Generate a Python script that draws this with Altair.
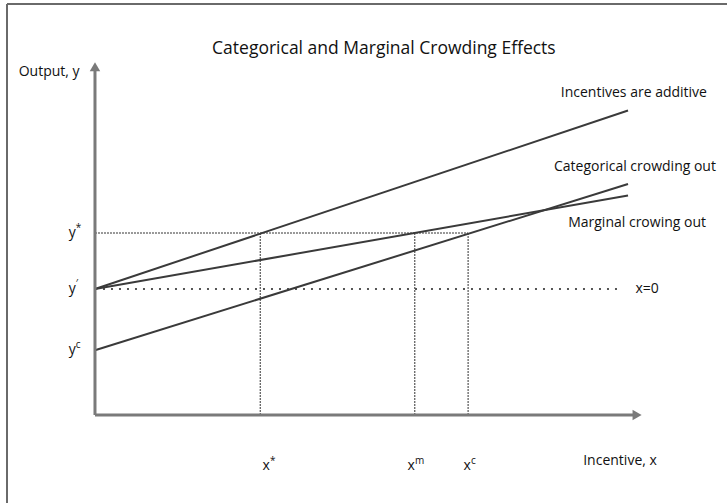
import altair as alt
import pandas as pd

# ---- data (conceptual units) ----
x_star, x_m, x_c = 3.1, 6.0, 7.0
y_star, y_prime, y_c = 5.2, 3.6, 1.85
x_end = 10.0

line_names = ["Incentives are additive", "Marginal crowing out", "Categorical crowding out"]
line_y0 = [3.6, 3.6, 1.85]
line_y1 = [8.7, 6.27, 6.6]

label_x = [10.11, 10.17, 10.13]
label_y = [9.2, 5.5, 7.09]
label_text = ["Incentives are additive", "Marginal crowing out", "Categorical crowding out"]

xtick_vals = [x_star, x_m, x_c]
xtick_pos = [3.21, 5.93, 6.98]
xtick_base = ["x", "x", "x"]
xtick_sup = ["*", "m", "c"]
ytick_vals = [y_star, y_prime, y_c]
ytick_base = ["y", "y", "y"]
ytick_sup = ["*", "′", "c"]

W, H = 727, 503
xs = alt.Scale(domain=[-1.782, 11.857], nice=False, zero=False)
ys = alt.Scale(domain=[-2.514, 11.857], nice=False, zero=False)
FONT = "Open Sans"
INK = "#3a3a3a"
TXT = "#111111"
FS = 14

def X(f="x"):
    return alt.X(f, type="quantitative", scale=xs, axis=None)

def Y(f="y"):
    return alt.Y(f, type="quantitative", scale=ys, axis=None)

# frame (left and top borders of the figure)
frame = pd.DataFrame({"a": [0]})
frame_left = alt.Chart(frame).mark_rule(color="#6a6a6a", strokeWidth=2).encode(
    x=alt.value(7), y=alt.value(4), y2=alt.value(H))
frame_top = alt.Chart(frame).mark_rule(color="#6a6a6a", strokeWidth=2).encode(
    x=alt.value(7), x2=alt.value(W), y=alt.value(4))

# axes
axes_df = pd.DataFrame({"x": [0, 0], "y": [0, 0], "x2": [10.12, 0], "y2": [0, 9.9]})
axes = alt.Chart(axes_df).mark_rule(color="#7a7a7a", strokeWidth=3).encode(
    x=X(), y=Y(), x2="x2", y2="y2")
arrow_x = alt.Chart(pd.DataFrame({"x": [10.17], "y": [0]})).mark_point(
    shape="triangle-right", filled=True, color="#7a7a7a", size=110, opacity=1).encode(x=X(), y=Y())
arrow_y = alt.Chart(pd.DataFrame({"x": [0], "y": [9.95]})).mark_point(
    shape="triangle-up", filled=True, color="#7a7a7a", size=110, opacity=1).encode(x=X(), y=Y())

# dotted x=0 line
dot_df = pd.DataFrame({"x": [0], "y": [y_prime], "x2": [9.85]})
dotted = alt.Chart(dot_df).mark_rule(color="#555555", strokeWidth=2, strokeDash=[2, 6]).encode(
    x=X(), y=Y(), x2="x2")

# dashed guides
guide_df = pd.DataFrame({
    "x": [0, x_star, x_m, x_c],
    "x2": [x_c, x_star, x_m, x_c],
    "y": [y_star, 0, 0, 0],
    "y2": [y_star, y_star, y_star, y_star],
})
guides = alt.Chart(guide_df).mark_rule(color="#333333", strokeWidth=1, strokeDash=[2, 1]).encode(
    x=X(), y=Y(), x2="x2", y2="y2")

# main lines
lines_df = pd.DataFrame({"name": line_names, "x": [0] * 3, "x2": [x_end] * 3,
                         "y": line_y0, "y2": line_y1})
lines = alt.Chart(lines_df).mark_rule(color=INK, strokeWidth=2).encode(
    x=X(), y=Y(), x2="x2", y2="y2")

# line labels
lab_df = pd.DataFrame({"x": label_x, "y": label_y, "t": label_text})
labels = alt.Chart(lab_df).mark_text(font=FONT, fontSize=FS, color=TXT, align="center",
                                     baseline="middle").encode(x=X(), y=Y(), text="t:N")

x0_lab = alt.Chart(pd.DataFrame({"x": [10.36], "y": [y_prime], "t": ["x=0"]})).mark_text(
    font=FONT, fontSize=FS, color=TXT, align="center", baseline="middle").encode(
    x=X(), y=Y(), text="t:N")

# tick labels with superscripts
xt_df = pd.DataFrame({"x": xtick_pos, "y": [-1.46] * 3, "t": xtick_base, "s": xtick_sup})
xticks = alt.Chart(xt_df).mark_text(font=FONT, fontSize=FS, color=TXT, align="center",
                                    baseline="middle").encode(x=X(), y=Y(), text="t:N")
xsups = alt.Chart(xt_df).mark_text(font=FONT, fontSize=10, color=TXT, align="left",
                                   baseline="middle", dx=4, dy=-5).encode(x=X(), y=Y(), text="s:N")
yt_df = pd.DataFrame({"x": [-0.36] * 3, "y": ytick_vals, "t": ytick_base, "s": ytick_sup})
yticks = alt.Chart(yt_df).mark_text(font=FONT, fontSize=FS, color=TXT, align="right",
                                    baseline="middle").encode(x=X(), y=Y(), text="t:N")
ysups = alt.Chart(yt_df).mark_text(font=FONT, fontSize=10, color=TXT, align="left",
                                   baseline="middle", dx=0, dy=-5).encode(x=X(), y=Y(), text="s:N")

# axis titles
at_df = pd.DataFrame({"x": [-0.86, 9.85], "y": [9.8, -1.31], "t": ["Output, y", "Incentive, x"]})
axis_titles = alt.Chart(at_df).mark_text(font=FONT, fontSize=FS, color=TXT, align="center",
                                         baseline="middle").encode(x=X(), y=Y(), text="t:N")

title = alt.Chart(pd.DataFrame({"x": [5.42], "y": [10.45],
                                "t": ["Categorical and Marginal Crowding Effects"]})).mark_text(
    font=FONT, fontSize=17.5, color=TXT, align="center", baseline="middle").encode(
    x=X(), y=Y(), text="t:N")

chart = alt.layer(
    frame_left, frame_top, guides, dotted, lines, axes, arrow_x, arrow_y,
    labels, x0_lab, xticks, xsups, yticks, ysups, axis_titles, title
).properties(
    width=W, height=H, padding=0, autosize=alt.AutoSizeParams(type="none"),
    background="white"
).configure_view(stroke=None)

chart.save("out.html", embed_options={"renderer": "svg", "actions": False})
